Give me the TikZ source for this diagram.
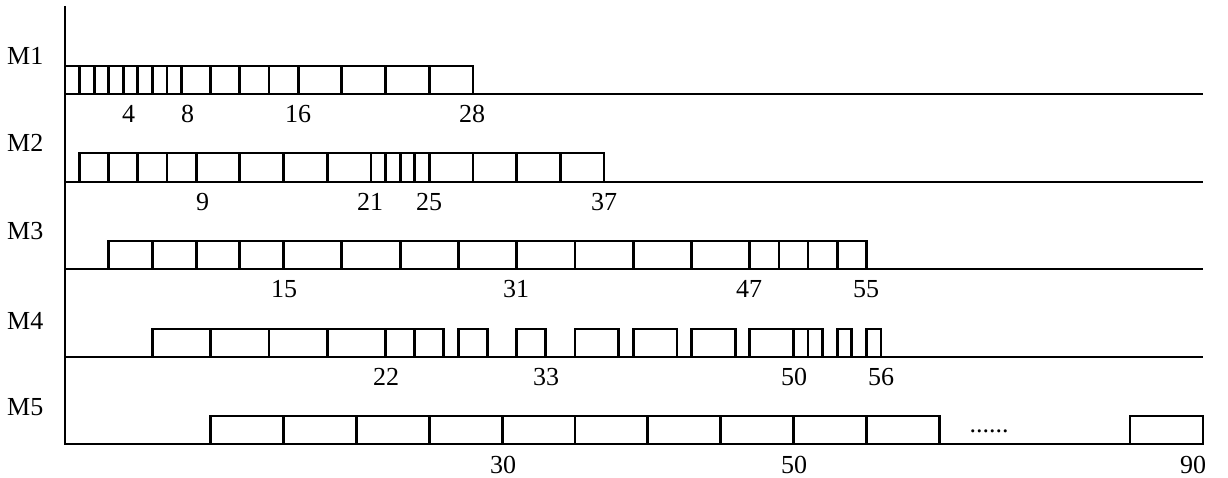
\documentclass[tikz,border=0pt]{standalone}
\usepackage{fontspec}
\setmainfont{Liberation Serif}
\begin{document}
\begin{tikzpicture}[x=1pt,y=-1pt,
  axisline/.style={line width=2pt},
  rowline/.style={line width=2.4pt},
  slot/.style={line width=2.8pt},
  lbl/.style={inner sep=0pt,anchor=base,font=\fontsize{26}{30}\selectfont},
  lblw/.style={lbl,anchor=base west},
  mlbl/.style={inner sep=0pt,anchor=base west,font=\fontsize{26}{30}\selectfont}]
\useasboundingbox (0,0) rectangle (1228,478);

% time axis: x = 65 + 14.57 t
\coordinate (o) at (65,6);
\coordinate (ob) at (65,445);
\draw[axisline] (o) -- (ob);

% machine base lines
\foreach \y/\n in {94/1,182/2,269/3,357/4,444/5}{
  \coordinate (s\n) at (65,\y);
  \coordinate (e\n) at (1203,\y);
  \draw[rowline] (s\n) -- (e\n);
}

% M1 operations
\foreach \a/\b in {0/1,1/2,2/3,3/4,4/5,5/6,6/7,7/8,8/10,10/12,12/14,14/16,16/19,19/22,22/25,25/28}
  \draw[slot] ({65+14.57*\a},66) rectangle ({65+14.57*\b},94);

% M2 operations
\foreach \a/\b in {1/3,3/5,5/7,7/9,9/12,12/15,15/18,18/21,21/22,22/23,23/24,24/25,25/28,28/31,31/34,34/37}
  \draw[slot] ({65+14.57*\a},153) rectangle ({65+14.57*\b},182);

% M3 operations
\foreach \a/\b in {3/6,6/9,9/12,12/15,15/19,19/23,23/27,27/31,31/35,35/39,39/43,43/47,47/49,49/51,51/53,53/55}
  \draw[slot] ({65+14.57*\a},241) rectangle ({65+14.57*\b},269);

% M4 operations
\foreach \a/\b in {6/10,10/14,14/18,18/22,22/24,24/26,27/29,31/33,35/38,39/42,43/46,47/50,50/51,51/52,53/54,55/56}
  \draw[slot] ({65+14.57*\a},329) rectangle ({65+14.57*\b},357);

% M5 operations
\foreach \a/\b in {10/15,15/20,20/25,25/30,30/35,35/40,40/45,45/50,50/55,55/60}
  \draw[slot] ({65+14.57*\a},416) rectangle ({65+14.57*\b},444);
\draw[slot] (1130,416) rectangle (1203,444);
\node[lbl] (dots) at (989,432) {......};

% machine names
\node[mlbl] (M1) at (7,65) {M1};
\node[mlbl] (M2) at (7,152) {M2};
\node[mlbl] (M3) at (7,240) {M3};
\node[mlbl] (M4) at (7,329) {M4};
\node[mlbl] (M5) at (7,415) {M5};

% completion times
\node[lblw] (t14) at (122,123) {4};
\node[lblw] (t18) at (181,123) {8};
\node[lbl] (t116) at (298,123) {16};
\node[lbl] (t128) at (472,123) {28};

\node[lblw] (t29) at (196,211) {9};
\node[lbl] (t221) at (370,211) {21};
\node[lbl] (t225) at (429,211) {25};
\node[lbl] (t237) at (604,211) {37};

\node[lbl] (t315) at (284,297) {15};
\node[lbl] (t331) at (516,297) {31};
\node[lbl] (t347) at (749,297) {47};
\node[lbl] (t355) at (866,297) {55};

\node[lbl] (t422) at (386,385) {22};
\node[lbl] (t433) at (546,385) {33};
\node[lbl] (t450) at (794,385) {50};
\node[lbl] (t456) at (881,385) {56};

\node[lbl] (t530) at (503,473) {30};
\node[lbl] (t550) at (794,473) {50};
\node[lbl] (t590) at (1193,473) {90};
\end{tikzpicture}
\end{document}
